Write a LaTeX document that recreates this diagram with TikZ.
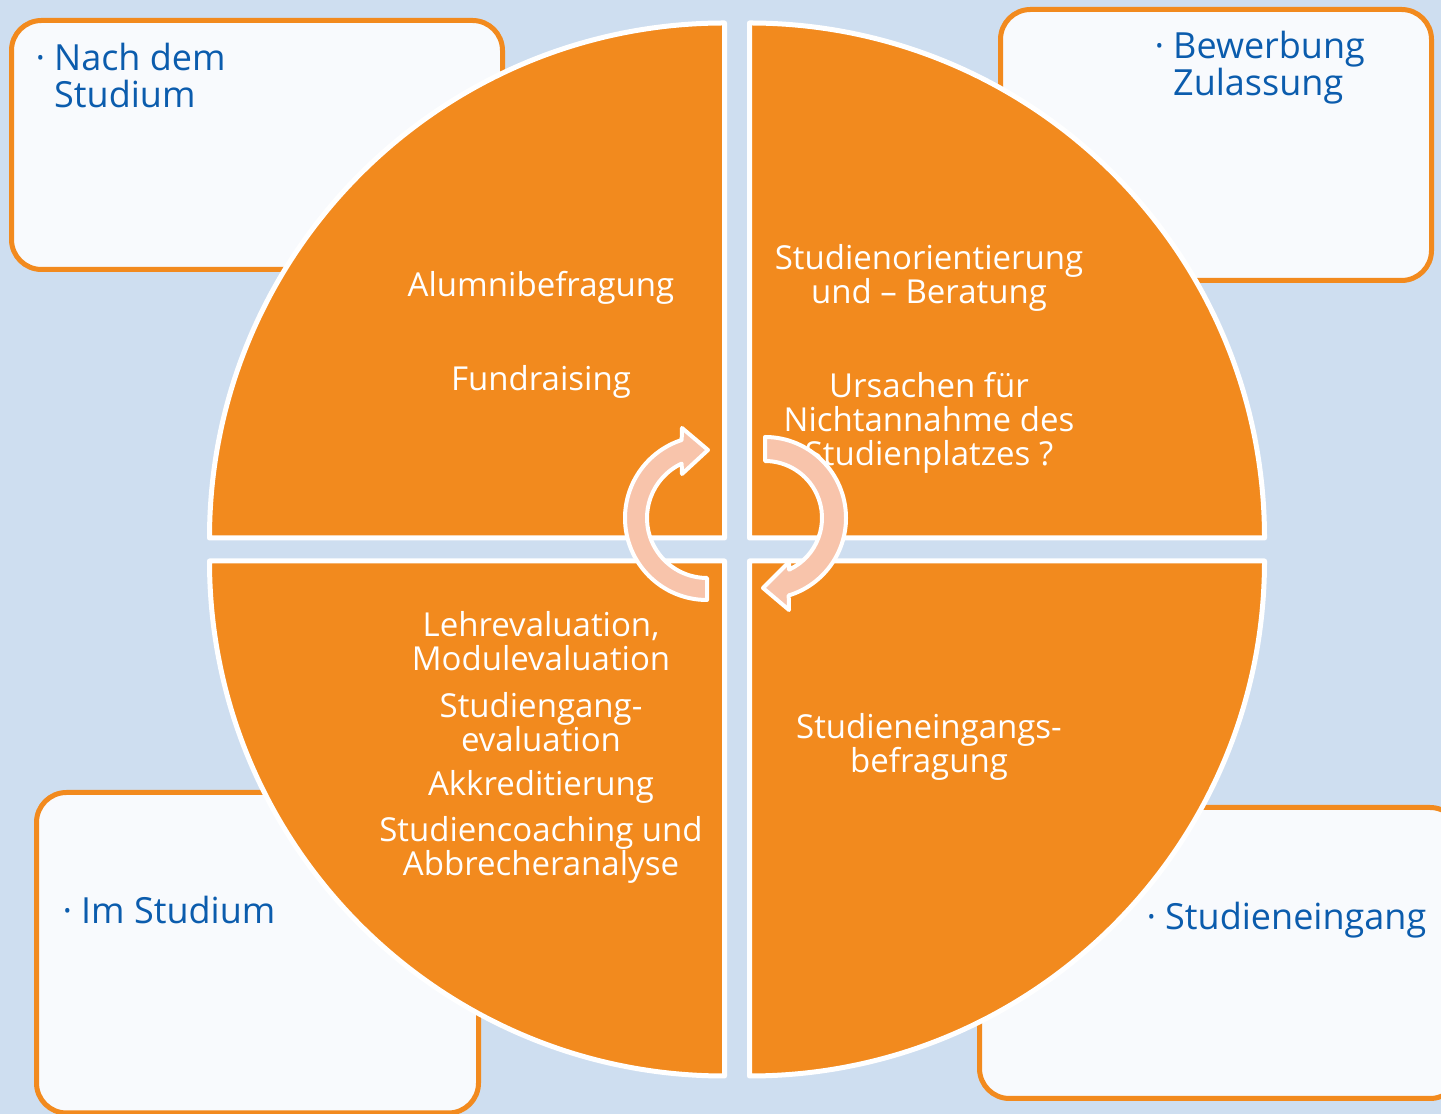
\documentclass[tikz,border=0pt]{standalone}
\usepackage{fontspec}
\setmainfont{Open Sans}
\usetikzlibrary{calc}
\definecolor{bgblue}{RGB}{206,222,240}
\definecolor{qorange}{RGB}{242,138,30}
\definecolor{boxfill}{RGB}{248,250,253}
\definecolor{txtblue}{RGB}{11,92,173}
\definecolor{arrowfill}{RGB}{248,196,171}
\tikzset{
  phasebox/.style={draw=qorange, line width=5pt, fill=boxfill, rounded corners=30pt},
  quadrant/.style={fill=qorange, draw=white, line width=5pt, line join=round},
  cyclearrow/.style={fill=arrowfill, draw=white, line width=4pt, line join=round},
  inlabel/.style={text=white, font=\fontsize{33}{34}\selectfont, align=center, inner sep=0pt},
  phaselabel/.style={text=txtblue, font=\fontsize{36}{37}\selectfont, align=left, inner sep=0pt},
}
\newcommand{\bul}{\llap{·\hspace{9pt}}}
\begin{document}
\begin{tikzpicture}[x=1pt,y=1pt]
\useasboundingbox (0,0) rectangle (1441,1114);
\fill[bgblue] (0,0) rectangle (1441,1114);

% phase boxes
\draw[phasebox] (11.5,844.5) rectangle (502.5,1093.5);
\draw[phasebox] (1000.5,833.5) rectangle (1431.5,1104.5);
\draw[phasebox] (36.5,1) rectangle (478.5,321.5);
\draw[phasebox] (979.5,15.5) rectangle (1460,306.5);

% phase labels
\node[phaselabel, anchor=north west] (pNach) at (54,1071) {\bul Nach dem\\Studium};
\node[phaselabel, anchor=north west] (pBew) at (1173,1083) {\bul Bewerbung\\Zulassung};
\node[phaselabel, anchor=base west] (pIm) at (81,190) {\bul Im Studium};
\node[phaselabel, anchor=base west] (pEin) at (1165,184) {\bul Studieneingang};

% quadrants
\coordinate (cTL) at (724.5,576);
\coordinate (cTR) at (749.5,576);
\coordinate (cBL) at (724.5,553);
\coordinate (cBR) at (749.5,553);
\draw[quadrant] (cTL) -- ++(-515,0) arc[start angle=180, end angle=90, radius=515] -- cycle;
\draw[quadrant] (cTR) -- ++(0,515) arc[start angle=90, end angle=0, radius=515] -- cycle;
\draw[quadrant] (cBL) -- ++(0,-515) arc[start angle=270, end angle=180, radius=515] -- cycle;
\draw[quadrant] (cBR) -- ++(515,0) arc[start angle=0, end angle=-90, radius=515] -- cycle;

% quadrant texts
\node[inlabel] (alumni) at (541,826.5) {Alumnibefragung};
\node[inlabel] (fund) at (541,732.5) {Fundraising};
\node[inlabel] (orient) at (929,836.5) {Studienorientierung\\und – Beratung};
\node[inlabel] (ursach) at (929,691.5) {Ursachen für\\Nichtannahme des\\Studienplatzes ?};
\node[inlabel] (lehre) at (541,473) {Lehrevaluation,\\Modulevaluation};
\node[inlabel] (sgang) at (541,392) {Studiengang-\\evaluation};
\node[inlabel] (akkr) at (541,327.5) {Akkreditierung};
\node[inlabel] (coach) at (541,264) {Studiencoaching und\\Abbrecheranalyse};
\node[inlabel] (eing) at (929,367) {Studieneingangs-\\befragung};

% cycle arrows
\coordinate (a1) at (707,596);
\coordinate (a2) at (765,596);
\draw[cyclearrow] ($(a1)+(270:82)$) arc[start angle=270, end angle=108, radius=82]
  -- ($(a1)+(-25,90)$) -- ($(a1)+(1,68)$) -- ($(a1)+(-25,44)$)
  -- ($(a1)+(115:60)$) arc[start angle=115, end angle=270, radius=60] -- cycle;
\draw[cyclearrow] ($(a2)+(90:81)$) arc[start angle=90, end angle=-73, radius=81]
  -- ($(a2)+(24,-92)$) -- ($(a2)+(-2,-70)$) -- ($(a2)+(24,-44)$)
  -- ($(a2)+(-65:57)$) arc[start angle=-65, end angle=90, radius=57] -- cycle;
\end{tikzpicture}
\end{document}
